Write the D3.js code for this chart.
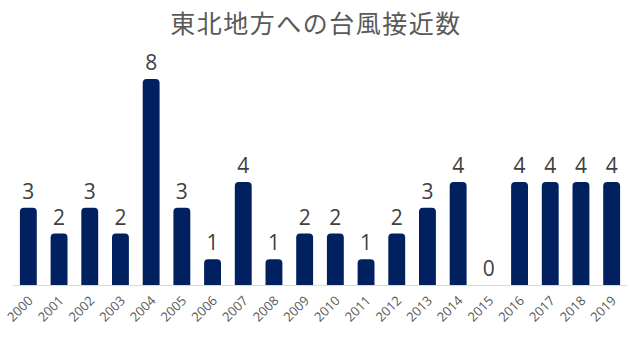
<!DOCTYPE html>
<html><head><meta charset="utf-8">
<script src="https://cdn.jsdelivr.net/npm/d3@7"></script>
<style>body{margin:0;background:#fff}</style>
</head><body>
<svg id="c" width="630" height="337"></svg>
<script>
const title = "東北地方への台風接近数";
const years = ["2000","2001","2002","2003","2004","2005","2006","2007","2008","2009","2010","2011","2012","2013","2014","2015","2016","2017","2018","2019"];
const counts = [3,2,3,2,8,3,1,4,1,2,2,1,2,3,4,0,4,4,4,4];

const svg = d3.select("#c");
const base = 285;
const x = d3.scaleBand().domain(years).range([13, 627]).paddingInner(0.45).paddingOuter(0.225);
const y = d3.scaleLinear().domain([0, 8]).range([base, 79]);

svg.append("text").attr("x", 316).attr("y", 33).attr("text-anchor", "middle")
  .attr("font-family", "'Noto Sans CJK JP'").attr("font-size", 25).attr("fill", "#595959")
  .attr("letter-spacing", "1.5px").text(title);

const r = 4;
svg.append("g").selectAll("path").data(years).join("path")
  .attr("fill", "#002060")
  .attr("d", (d, i) => {
    const x0 = x(d), w = x.bandwidth(), yt = y(counts[i]), h = base - yt;
    if (h <= 0) return "";
    const rr = Math.min(r, h, w / 2);
    return `M${x0},${base}V${yt + rr}Q${x0},${yt} ${x0 + rr},${yt}H${x0 + w - rr}Q${x0 + w},${yt} ${x0 + w},${yt + rr}V${base}Z`;
  });

svg.append("line").attr("x1", 13).attr("x2", 627).attr("y1", base + 0.5).attr("y2", base + 0.5)
  .attr("stroke", "#d9d9d9").attr("stroke-width", 1);

svg.append("g").selectAll("text").data(years).join("text")
  .attr("x", d => x(d) + x.bandwidth() / 2).attr("y", (d, i) => y(counts[i]) - 9)
  .attr("text-anchor", "middle").attr("font-family", "'Open Sans'").attr("font-size", 21)
  .attr("fill", "#404040").text((d, i) => counts[i]);

svg.append("g").selectAll("text").data(years).join("text")
  .attr("transform", d => `translate(${x(d) + x.bandwidth() / 2 + 3},${base + 14}) rotate(-45)`)
  .attr("text-anchor", "end").attr("dominant-baseline", "middle")
  .attr("font-family", "'Open Sans'").attr("font-size", 13).attr("fill", "#595959")
  .text(d => d);
</script>
</body></html>
